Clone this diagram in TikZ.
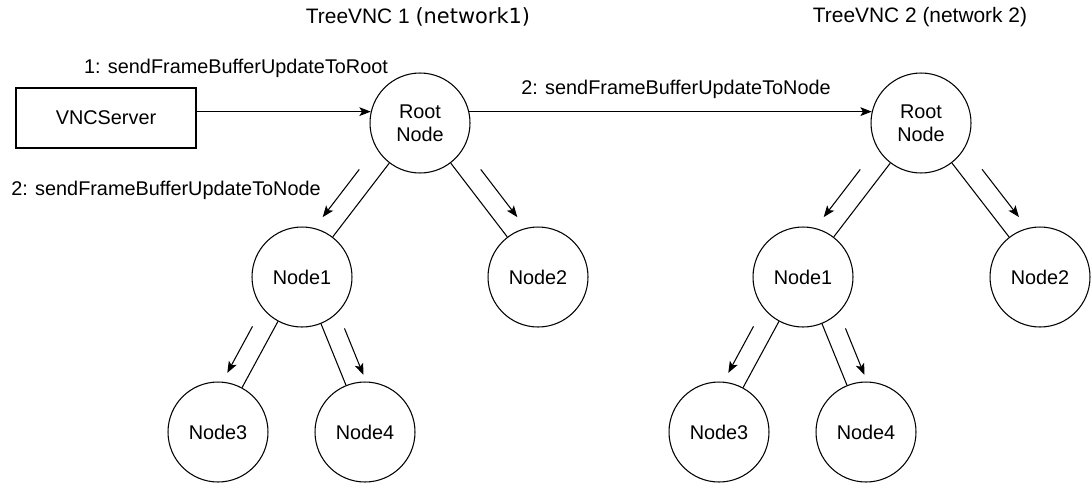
\documentclass[tikz,border=0pt]{standalone}
\usepackage{fontspec}
\setmainfont{Liberation Sans}
\newfontfamily\jpfont{DejaVu Sans}
\usepackage{tikz}
\usetikzlibrary{arrows.meta,calc}

\begin{document}
\begin{tikzpicture}[x=0.02cm,y=-0.02cm,line width=0.6pt,
  every node/.style={font=\fontsize{11.3}{13}\selectfont},
  circnode/.style={draw,circle,minimum size=2cm,inner sep=0pt,align=center},
  boxnode/.style={draw,minimum width=3.6cm,minimum height=1.2cm},
  title/.style={font=\fontsize{11.9}{14}\selectfont},
  flow/.style={-{Stealth[length=6.5pt,width=5pt,inset=1.5pt]}}]
 \useasboundingbox (0,0) rectangle (1091,484);
 \draw (418,17) node[title] (title1) {TreeVNC 1 {\jpfont(network1)}};
 \draw (920,17) node[title] (title2) {TreeVNC 2 (network 2)};

 \draw (106,118) node[boxnode] (vnc) {VNCServer};
  \draw (420,123) node[circnode] (root1) {Root\\Node};
  \draw (302,277) node[circnode] (a1) {Node1};
  \draw (538,277) node[circnode] (b1) {Node2};
   \draw (218,432) node[circnode] (c1) {Node3};
   \draw (365,432) node[circnode] (d1) {Node4};
  \draw (921,123) node[circnode] (root2) {Root\\Node};
  \draw (803,277) node[circnode] (a2) {Node1};
  \draw (1040,277) node[circnode] (b2) {Node2};
   \draw (719,432) node[circnode] (c2) {Node3};
   \draw (866,432) node[circnode] (d2) {Node4};

 \draw (236,68) node (lblroot) {1: sendFrameBufferUpdateToRoot};
 \draw (676,89) node (lblnet) {2: sendFrameBufferUpdateToNode};
 \draw (166,190) node (lbltree) {2: sendFrameBufferUpdateToNode};

     \path[flow] (vnc.east |- root1.167) edge (root1.167);
     \path[flow] (root1.13) edge (root2.167);

     \path[-] (root1) edge (a1);
     \path[-] (root1) edge (b1);
     \path[-] (a1) edge (c1);
     \path[-] (a1) edge (d1);
     \path[-] (root2) edge (a2);
     \path[-] (root2) edge (b2);
     \path[-] (a2) edge (c2);
     \path[-] (a2) edge (d2);

     \path[flow] ($(root1)!0.38!(a1)!0.4cm!-90:(a1)$) edge ($(root1)!0.69!(a1)!0.4cm!-90:(a1)$);
     \path[flow] ($(root1)!0.38!(b1)!0.4cm!90:(b1)$) edge ($(root1)!0.69!(b1)!0.4cm!90:(b1)$);
     \path[flow] ($(a1)!0.38!(c1)!0.4cm!-90:(c1)$) edge ($(a1)!0.68!(c1)!0.4cm!-90:(c1)$);
     \path[flow] ($(a1)!0.38!(d1)!0.4cm!90:(d1)$) edge ($(a1)!0.68!(d1)!0.4cm!90:(d1)$);
     \path[flow] ($(root2)!0.38!(a2)!0.4cm!-90:(a2)$) edge ($(root2)!0.69!(a2)!0.4cm!-90:(a2)$);
     \path[flow] ($(root2)!0.38!(b2)!0.4cm!90:(b2)$) edge ($(root2)!0.69!(b2)!0.4cm!90:(b2)$);
     \path[flow] ($(a2)!0.38!(c2)!0.4cm!-90:(c2)$) edge ($(a2)!0.68!(c2)!0.4cm!-90:(c2)$);
     \path[flow] ($(a2)!0.38!(d2)!0.4cm!90:(d2)$) edge ($(a2)!0.68!(d2)!0.4cm!90:(d2)$);
\end{tikzpicture}
\end{document}
